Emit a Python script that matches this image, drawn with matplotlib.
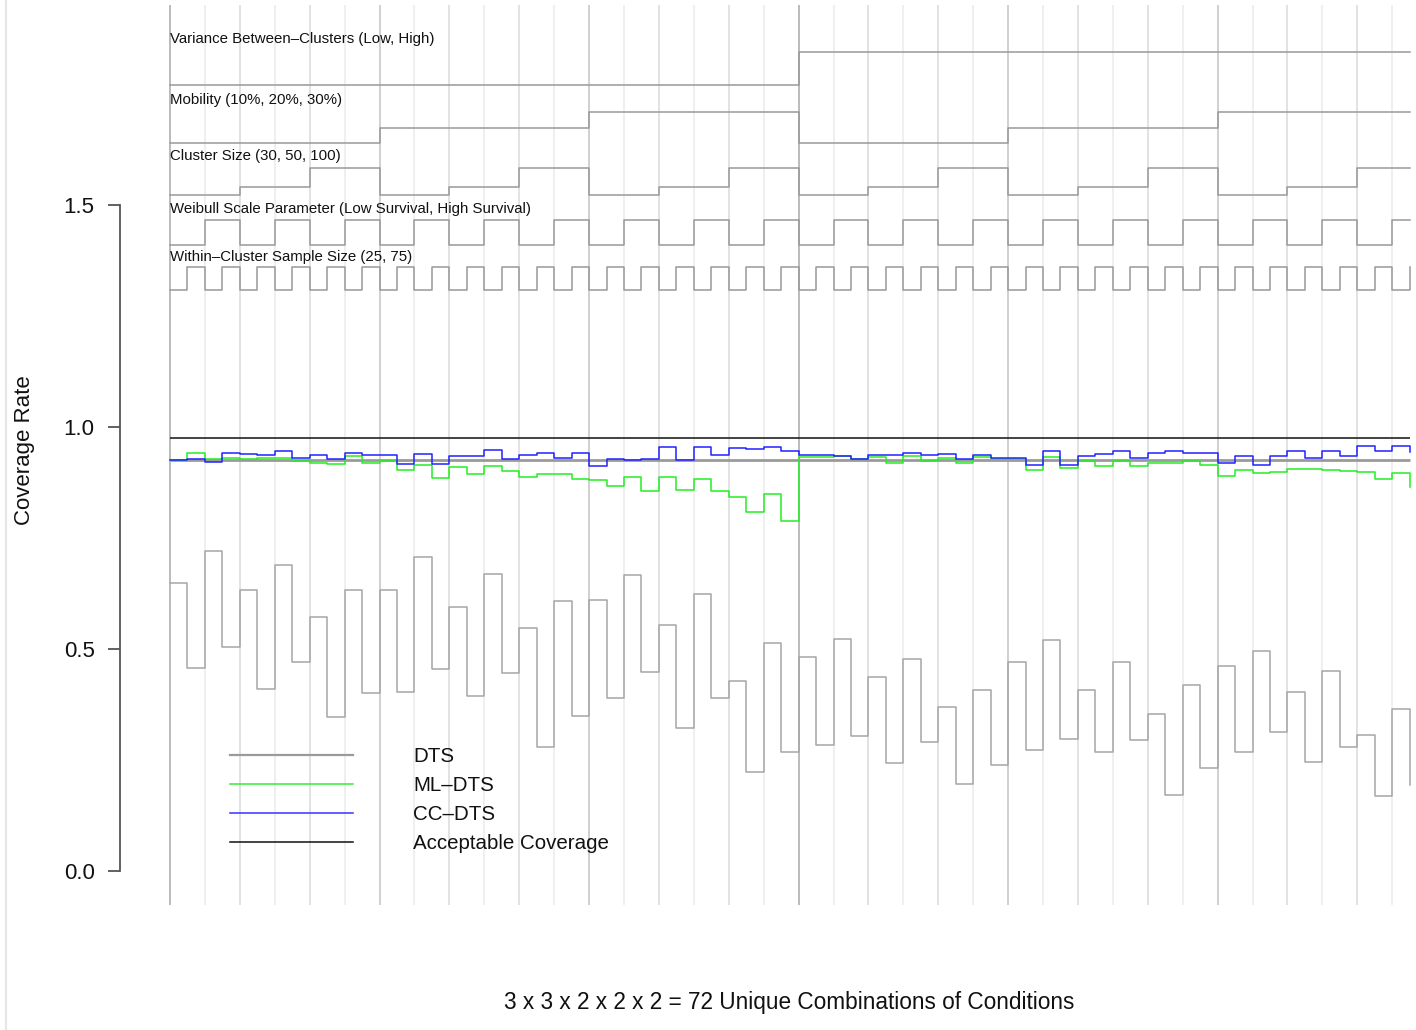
"""Nested loop plot of coverage rates across the 72 simulation conditions."""
import itertools
import matplotlib
matplotlib.use('Agg')
import matplotlib.pyplot as plt
from matplotlib.lines import Line2D
import numpy as np

plt.rcParams['font.family'] = ['Liberation Sans', 'DejaVu Sans']

# design factors, outermost first
variance_levels = ["Low", "High"]
mobility_levels = [10, 20, 30]
cluster_levels = [30, 50, 100]
weibull_levels = ["Low Survival", "High Survival"]
within_levels = [25, 75]

factor_names = [
    "Variance Between\u2013Clusters (Low, High)",
    "Mobility (10%, 20%, 30%)",
    "Cluster Size (30, 50, 100)",
    "Weibull Scale Parameter (Low Survival, High Survival)",
    "Within\u2013Cluster Sample Size (25, 75)",
]

# coverage rates, one value per condition (in nested order)
dts = [0.649, 0.458, 0.721, 0.505, 0.634, 0.409, 0.690, 0.471, 0.571, 0.346, 0.634, 0.401,
       0.632, 0.403, 0.707, 0.456, 0.595, 0.395, 0.670, 0.446, 0.547, 0.279, 0.607, 0.350,
       0.611, 0.390, 0.666, 0.448, 0.553, 0.323, 0.625, 0.390, 0.429, 0.222, 0.513, 0.268,
       0.483, 0.283, 0.522, 0.303, 0.437, 0.244, 0.477, 0.291, 0.369, 0.196, 0.408, 0.238,
       0.471, 0.273, 0.520, 0.297, 0.408, 0.267, 0.471, 0.294, 0.354, 0.172, 0.420, 0.231,
       0.462, 0.268, 0.496, 0.312, 0.404, 0.245, 0.450, 0.279, 0.307, 0.169, 0.365, 0.194]

ml_dts = [0.926, 0.941, 0.927, 0.930, 0.927, 0.930, 0.930, 0.923, 0.920, 0.916, 0.935, 0.919,
          0.923, 0.903, 0.915, 0.886, 0.910, 0.895, 0.912, 0.902, 0.888, 0.894, 0.895, 0.882,
          0.881, 0.868, 0.887, 0.856, 0.887, 0.858, 0.882, 0.855, 0.843, 0.808, 0.849, 0.789,
          0.932, 0.932, 0.935, 0.927, 0.933, 0.919, 0.934, 0.923, 0.930, 0.919, 0.933, 0.927,
          0.927, 0.903, 0.932, 0.908, 0.924, 0.912, 0.924, 0.912, 0.918, 0.920, 0.924, 0.915,
          0.890, 0.903, 0.897, 0.898, 0.906, 0.905, 0.903, 0.900, 0.899, 0.882, 0.897, 0.864]

cc_dts = [0.926, 0.927, 0.921, 0.942, 0.939, 0.936, 0.946, 0.931, 0.936, 0.929, 0.942, 0.936,
          0.936, 0.917, 0.939, 0.916, 0.934, 0.934, 0.949, 0.927, 0.938, 0.942, 0.930, 0.941,
          0.912, 0.928, 0.925, 0.929, 0.954, 0.926, 0.954, 0.938, 0.953, 0.950, 0.954, 0.945,
          0.937, 0.938, 0.935, 0.929, 0.937, 0.936, 0.942, 0.936, 0.939, 0.929, 0.937, 0.930,
          0.930, 0.915, 0.945, 0.915, 0.934, 0.939, 0.945, 0.930, 0.942, 0.946, 0.942, 0.942,
          0.919, 0.934, 0.915, 0.935, 0.945, 0.930, 0.945, 0.934, 0.957, 0.946, 0.957, 0.943]

acceptable_upper = 0.975
acceptable_lower = 0.925

# band (bottom, height) for each design line and y of its label
bands = [(1.770, 0.075), (1.639, 0.071), (1.5225, 0.060), (1.410, 0.056), (1.3086, 0.0525)]
label_y = [1.874, 1.7365, 1.610, 1.491, 1.383]

W, H = 1416, 1030
fig = plt.figure(figsize=(W / 100, H / 100), dpi=100)
ax = fig.add_axes([120.4 / W, (H - 905) / H, (W - 120.4) / W, 900 / H])

n = len(dts)
x = np.arange(1, n + 1)

# vertical separators at level changes of the inner factors
for b in range(0, n, 2):
    if b % 36 == 0:
        c = '#a8a8a8'
    elif b % 12 == 0:
        c = '#c4c4c4'
    elif b % 4 == 0:
        c = '#dadada'
    else:
        c = '#ebebeb'
    ax.axvline(b + 1, color=c, lw=1.1, zorder=1)

# design lines
levels = [variance_levels, mobility_levels, cluster_levels, weibull_levels, within_levels]
combos = list(itertools.product(*levels))
for k, (lv, (base, height)) in enumerate(zip(levels, bands)):
    if isinstance(lv[0], str):
        vals = np.array([lv.index(c[k]) for c in combos], dtype=float) / (len(lv) - 1)
    else:
        col = np.array([c[k] for c in combos], dtype=float)
        vals = (col - min(lv)) / (max(lv) - min(lv))
    ax.step(x, base + vals * height, where='post', color='#999999', lw=1.1, zorder=2)
    ax.text(1, label_y[k], factor_names[k], fontsize=10.8, ha='left', va='center',
            color='#111111', zorder=5)

# coverage series
ax.hlines(acceptable_lower, 1, n, color='#9a9a9a', lw=2.0, zorder=3)
ax.step(x, dts, where='post', color='#a6a6a6', lw=1.1, zorder=3)
ax.step(x, ml_dts, where='post', color='#22ee22', lw=1.1, zorder=4)
ax.step(x, cc_dts, where='post', color='#2222ff', lw=1.1, zorder=4)
ax.hlines(acceptable_upper, 1, n, color='#222222', lw=1.2, zorder=4)

# legend
leg_labels = ["DTS", "ML\u2013DTS", "CC\u2013DTS", "Acceptable Coverage"]
leg_colors = ['#9a9a9a', '#33ee33', '#3333ff', '#111111']
leg_widths = [1.6, 1.1, 1.1, 1.1]
leg_y = [0.261, 0.196, 0.131, 0.066]
for lab, c, lw, yy in zip(leg_labels, leg_colors, leg_widths, leg_y):
    ax.plot([4.44, 11.48], [yy, yy], color=c, lw=lw, zorder=5)
    ax.text(14.92, yy - 0.003, lab, fontsize=14.8, ha='left', va='center', color='#111111')

ax.set_xlim(-1.84, 72.36)
ax.set_ylim(-0.0766, 1.9505)
for s in ['top', 'right', 'bottom']:
    ax.spines[s].set_visible(False)
ax.spines['left'].set_bounds(0, 1.5)
ax.spines['left'].set_color('#555555')
ax.spines['left'].set_linewidth(1.3)
ax.set_xticks([])
ax.set_yticks([0, 0.5, 1.0, 1.5])
ax.set_yticklabels(["0.0", "0.5", "1.0", "1.5"])
ax.tick_params(axis='y', length=8.5, width=1.3, color='#555555', pad=10,
               labelsize=16, labelcolor='#111111')
ax.patch.set_alpha(0)

fig.text(25 / W, 1 - 450 / H, "Coverage Rate", rotation=90, fontsize=16,
         ha='center', va='center', color='#111111')
fig.text(789.5 / W, 1 - 1002 / H, "3 x 3 x 2 x 2 x 2 = 72 Unique Combinations of Conditions",
         fontsize=16.3, ha='center', va='center', color='#111111')

# faint left border
fig.add_artist(Line2D([6 / W, 6 / W], [0, 1], transform=fig.transFigure,
                      color='#e6e6e6', lw=1.5))

fig.savefig("out.png", dpi=100)
plt.close(fig)
